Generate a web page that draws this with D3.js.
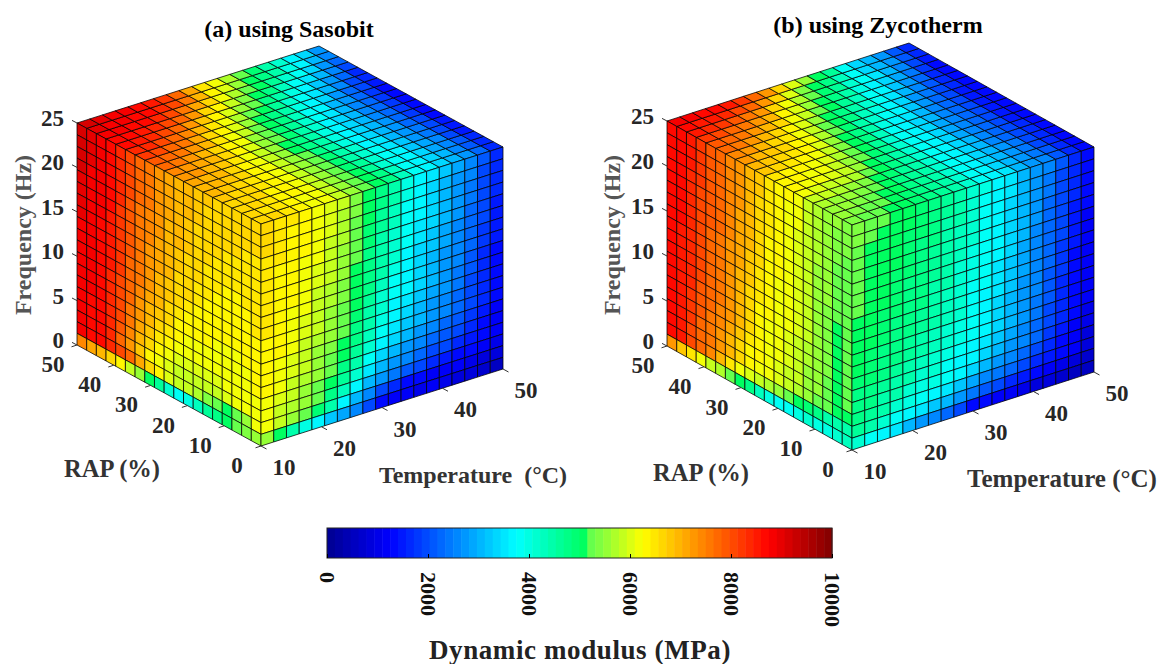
<!DOCTYPE html>
<html>
<head>
<meta charset="utf-8">
<script src="https://cdnjs.cloudflare.com/ajax/libs/d3/7.8.5/d3.min.js"></script>
<style>
  html, body { margin: 0; padding: 0; background: #fff; }
  text { font-family: "Liberation Serif", serif; font-weight: bold; }
</style>
</head>
<body>
<div id="chart"></div>
<script>
// ================================ data (cell values, x100 MPa)
// top faces: first row RAP 0 -> last row RAP 50, columns T 10 -> 50
var sasobitTop = [
  [66,66,65,63,62,61,59,56,53,50,47,43,39,37,34,30,27,22,17],
  [66,65,65,64,62,61,59,56,53,50,47,43,39,37,33,30,26,21,16],
  [67,66,65,64,63,61,59,56,53,50,46,42,38,36,33,29,25,21,16],
  [67,66,66,64,63,61,59,56,52,49,46,42,38,36,32,29,25,20,15],
  [68,67,66,65,63,61,59,55,52,49,45,41,38,35,32,28,24,20,15],
  [69,68,67,65,64,62,59,55,52,49,45,41,37,35,31,28,24,19,15],
  [70,69,68,66,64,62,59,55,52,48,44,40,37,34,31,27,23,19,14],
  [71,70,69,67,64,62,59,55,51,48,44,40,37,34,30,27,23,18,14],
  [73,72,70,68,65,62,59,55,51,48,44,40,37,34,30,26,22,18,14],
  [74,73,71,69,66,63,60,55,52,49,45,41,37,34,30,26,22,18,14],
  [77,75,73,70,67,64,61,56,52,49,46,42,38,35,30,26,22,18,14],
  [79,77,75,72,69,65,62,58,53,50,47,43,39,36,31,27,23,18,14],
  [82,80,78,75,71,67,63,60,55,51,48,44,40,37,33,28,23,19,15],
  [84,83,81,78,74,70,65,62,57,53,50,46,42,38,35,30,25,20,16],
  [86,85,83,81,78,73,68,64,60,55,52,48,44,40,37,32,27,22,17],
  [87,87,85,84,81,77,72,67,63,59,54,50,47,43,39,35,30,25,19],
  [88,88,87,86,84,81,76,71,66,62,57,53,50,46,42,38,33,28,22],
  [90,89,88,87,86,84,80,75,69,64,60,55,51,48,44,40,36,31,25],
  [92,90,89,88,87,85,82,77,71,65,62,57,52,49,45,41,37,33,27]
];
// left faces: first row F 25 -> last row F 0, columns RAP 50 -> 0
var sasobitLeft = [
  [91,90,88,86,83,80,77,75,73,71,70,69,68,68,67,67,66,66,66],
  [91,90,88,86,83,80,77,75,73,71,70,69,68,67,67,66,66,66,66],
  [91,90,88,86,83,80,77,75,73,71,70,69,68,67,66,66,66,66,66],
  [91,89,88,86,83,80,77,75,72,71,70,68,67,67,66,66,66,65,65],
  [90,89,88,86,83,79,76,74,72,70,69,68,67,66,66,65,65,65,65],
  [90,89,88,86,82,79,76,74,72,70,69,68,67,66,65,65,65,65,65],
  [90,89,88,85,82,79,76,74,71,70,68,67,66,65,65,65,65,65,65],
  [90,88,87,85,82,79,76,73,71,69,68,67,66,65,65,64,64,65,65],
  [89,88,87,85,82,79,75,73,71,69,67,66,65,65,64,64,64,64,65],
  [89,88,87,85,82,78,75,73,70,68,67,66,65,64,64,64,64,64,65],
  [89,88,87,85,82,78,75,72,70,68,66,65,64,64,64,63,64,64,64],
  [88,88,87,84,81,78,74,71,69,67,65,64,64,63,63,63,63,63,64],
  [88,88,86,84,81,77,73,70,68,66,64,63,63,63,62,62,62,63,63],
  [88,88,86,84,80,76,72,69,67,65,63,62,62,62,62,62,62,62,63],
  [88,87,86,83,80,75,71,68,65,63,62,61,61,61,61,61,62,62,63],
  [88,87,86,83,79,74,70,66,63,61,60,60,60,60,60,61,61,62,62],
  [88,87,86,83,78,73,68,64,61,60,59,59,58,58,59,60,61,61,62],
  [88,87,86,84,81,77,71,67,63,60,59,59,57,54,52,50,52,55,62],
  [74,71,69,67,63,59,55,50,46,42,39,40,43,46,48,50,52,54,56]
];
// right faces: first row F 25 -> last row F 0, columns T 10 -> 50
var sasobitRight = [
  [66,65,65,63,62,60,58,54,50,47,44,40,37,35,32,29,25,21,17],
  [66,65,64,63,62,60,57,54,50,47,44,40,37,34,31,28,25,20,16],
  [66,65,64,63,61,60,57,53,50,46,43,39,36,34,31,28,24,20,16],
  [65,65,64,63,61,59,57,53,49,46,43,39,36,33,30,27,24,19,16],
  [65,64,64,62,61,59,56,52,49,45,42,38,35,33,30,27,23,19,15],
  [65,64,63,62,60,58,55,52,48,45,42,38,35,32,29,26,23,19,15],
  [65,64,63,62,60,58,55,51,48,44,41,37,34,32,29,26,22,18,15],
  [65,64,63,61,59,57,54,51,47,44,40,37,34,31,28,25,22,18,15],
  [65,63,62,61,59,57,54,50,47,43,39,36,33,31,28,25,21,17,14],
  [65,63,62,60,58,56,53,50,46,42,38,36,33,30,27,24,21,17,14],
  [64,63,62,60,58,55,53,49,45,41,37,35,32,29,27,24,20,17,14],
  [64,63,61,59,57,55,52,48,44,40,36,34,31,28,26,23,20,16,13],
  [64,62,60,59,56,54,51,47,43,38,35,32,30,27,25,22,19,16,13],
  [63,62,60,58,56,53,50,46,41,36,33,30,27,25,23,21,18,15,12],
  [63,61,59,57,55,52,48,44,38,33,30,28,25,23,21,19,17,14,12],
  [62,60,58,56,53,50,46,41,35,31,28,25,23,20,19,17,15,13,11],
  [62,59,57,55,52,48,43,37,31,27,24,21,19,17,15,14,13,12,10],
  [61,59,56,52,49,44,36,31,25,20,16,14,13,12,11,11,10,9,8],
  [55,50,44,40,37,32,29,25,19,14,12,11,10,11,10,9,8,7,5]
];
var zycothermTop = [
  [54,53,52,50,50,49,48,46,44,42,39,37,35,31,28,25,21,17,14],
  [55,54,53,52,50,49,48,46,44,42,39,37,34,31,28,24,21,17,14],
  [56,55,54,53,51,50,48,46,44,41,38,36,34,31,27,24,20,16,13],
  [57,56,55,54,52,50,48,46,44,41,38,36,33,30,27,24,20,16,13],
  [59,58,57,56,54,51,49,46,44,41,38,36,33,30,26,23,20,16,13],
  [61,60,59,58,57,53,50,47,44,41,38,36,33,30,26,23,19,16,13],
  [63,62,61,60,58,55,51,48,45,41,38,36,33,29,26,23,19,15,13],
  [64,63,62,61,59,56,52,49,46,42,38,36,33,29,26,22,19,15,13],
  [65,64,63,62,60,57,53,50,46,42,38,36,33,29,26,22,19,15,13],
  [68,66,65,63,62,58,54,50,47,43,39,37,34,30,26,22,19,15,13],
  [70,68,66,65,63,60,55,51,48,44,40,37,35,31,26,22,19,15,13],
  [72,70,68,66,64,61,57,52,49,45,42,38,36,32,27,23,19,15,13],
  [74,72,70,67,65,62,58,53,50,47,43,40,37,33,28,24,20,16,13],
  [78,75,72,70,67,63,60,55,51,48,45,41,38,35,30,25,21,16,13],
  [79,77,75,72,69,66,62,58,53,50,46,43,39,36,32,27,22,17,13],
  [82,81,78,75,72,69,64,60,55,51,48,44,40,37,33,29,24,18,14],
  [85,84,82,79,76,72,67,62,57,52,49,46,42,38,35,30,26,20,15],
  [86,85,85,83,80,77,72,66,60,54,50,47,43,38,34,30,27,21,16],
  [88,88,87,87,85,82,78,72,66,60,55,50,46,39,33,30,27,21,16]
];
var zycothermLeft = [
  [87,86,85,82,79,78,74,72,70,68,65,64,63,61,59,57,56,55,54],
  [87,86,85,82,79,78,74,72,70,68,65,64,62,61,59,57,56,54,54],
  [87,86,85,82,79,77,74,72,70,67,65,64,62,61,59,57,55,54,54],
  [87,86,84,82,79,77,74,72,69,67,65,63,62,60,59,57,55,54,53],
  [87,86,84,81,79,77,74,71,69,67,65,63,62,60,58,57,55,53,53],
  [87,86,84,81,79,77,74,71,69,66,64,63,62,60,58,56,55,53,53],
  [87,86,84,81,79,77,74,71,69,66,64,63,62,60,58,56,55,52,53],
  [87,86,84,81,78,76,73,71,68,66,64,63,61,60,58,56,55,52,53],
  [87,85,83,81,78,76,73,71,68,65,64,62,61,60,58,56,54,52,53],
  [87,85,83,80,78,76,73,70,68,65,63,62,61,60,58,56,54,51,53],
  [87,85,83,80,78,76,73,70,67,65,63,62,61,60,58,56,54,51,53],
  [87,85,83,80,78,76,73,70,67,64,63,62,61,60,58,56,54,51,53],
  [87,85,83,79,77,75,73,70,67,64,62,61,60,59,57,56,54,51,53],
  [87,85,82,79,77,74,72,69,66,63,62,61,60,59,57,55,54,50,53],
  [87,85,82,79,76,74,71,68,65,63,62,61,60,58,56,55,53,50,53],
  [87,85,82,78,76,73,70,67,64,63,62,60,59,58,56,55,53,50,52],
  [87,85,81,78,75,72,69,66,63,62,61,60,59,57,55,53,52,50,50],
  [86,85,81,77,74,70,65,62,60,59,57,55,53,50,49,47,45,44,44],
  [72,68,65,62,59,57,53,50,47,43,40,38,39,40,41,40,40,41,43]
];
var zycothermRight = [
  [54,53,52,51,50,49,48,46,44,42,40,37,35,31,28,25,21,17,14],
  [54,52,51,50,50,49,47,46,44,42,39,37,35,31,28,24,20,16,14],
  [53,51,50,50,49,49,47,45,44,41,39,37,34,31,27,24,20,16,13],
  [53,51,50,50,49,48,47,45,43,41,39,36,34,30,27,23,20,16,13],
  [53,50,50,50,49,48,46,45,43,41,38,36,33,30,27,23,19,15,13],
  [53,50,50,49,49,48,46,44,43,40,38,36,33,30,26,23,19,15,12],
  [53,50,50,49,48,47,46,44,42,40,38,36,33,29,26,22,19,15,12],
  [52,50,50,49,48,47,45,44,42,40,38,35,32,29,26,22,18,15,12],
  [51,50,49,49,47,47,45,43,42,39,38,35,32,29,25,22,18,14,12],
  [50,50,49,48,47,46,44,43,41,39,37,35,32,28,25,21,18,14,11],
  [50,50,49,48,47,46,44,43,41,39,37,34,31,28,25,21,17,14,11],
  [50,49,48,47,46,45,43,42,40,38,37,34,31,27,24,21,17,13,11],
  [50,49,48,47,46,44,43,41,40,38,36,33,30,27,24,20,16,13,11],
  [49,49,47,46,45,43,42,40,38,37,35,32,29,26,23,19,16,13,10],
  [48,48,46,45,44,42,41,39,37,36,33,30,28,25,22,18,15,12,10],
  [47,47,45,44,42,40,40,38,36,34,31,28,26,23,20,17,14,12,9],
  [47,46,44,42,40,38,37,35,32,29,26,24,22,20,17,15,13,11,9],
  [46,45,42,39,37,35,32,30,28,24,21,19,17,15,13,11,10,8,7],
  [41,38,37,35,31,28,26,23,19,14,13,12,11,10,9,8,7,6,5]
];

var tempTicks = [10, 20, 30, 40, 50];
var rapTicks = [0, 10, 20, 30, 40, 50];
var freqTicks = [0, 5, 10, 15, 20, 25];
var barTicks = [0, 2000, 4000, 6000, 8000, 10000];

// jet colormap as it looks in the picture, cut in 64 steps
var jetStops = [0, 1250, 3750, 5080, 5120, 6250, 8750, 10000];
var jetColors = ["#000090", "#0000ff", "#00ffff", "#00ff60", "#55ff55", "#ffff00", "#ff0000", "#800000"];

// ================================ svg
var svgWidth = 1163;
var svgHeight = 664;

var svg = d3.select("#chart")
  .append("svg")
  .attr("width", svgWidth)
  .attr("height", svgHeight)
  .style("display", "block");

var jet = d3.scaleLinear().domain(jetStops).range(jetColors);
var stepSize = 10000 / 64;

function cellColor(v) {
  var mpa = v * 100;
  return jet((Math.floor(mpa / stepSize) + 0.5) * stepSize);
}

// ================================ one cube
function drawCube(p) {
  var g = svg.append("g");

  // three skew axes, they all start at the front bottom corner
  var xTemp = d3.scaleLinear().domain([10, 50]).range([0, p.tempEnd[0] - p.origin[0]]);
  var yTemp = d3.scaleLinear().domain([10, 50]).range([0, p.tempEnd[1] - p.origin[1]]);
  var xRap = d3.scaleLinear().domain([0, 50]).range([0, p.rapEnd[0] - p.origin[0]]);
  var yRap = d3.scaleLinear().domain([0, 50]).range([0, p.rapEnd[1] - p.origin[1]]);
  var yFreq = d3.scaleLinear().domain([0, 25]).range([0, -p.height]);

  function project(rap, temp, freq) {
    return [p.origin[0] + xTemp(temp) + xRap(rap), p.origin[1] + yTemp(temp) + yRap(rap) + yFreq(freq)];
  }

  // grid index -> axis value
  var iTemp = d3.scaleLinear().domain([0, 19]).range([10, 50]);
  var iRap = d3.scaleLinear().domain([0, 19]).range([0, 50]);
  var iFreq = d3.scaleLinear().domain([0, 19]).range([25, 0]);

  function addFace(values, corners) {
    var cells = [];
    values.forEach(function (row, r) {
      row.forEach(function (v, c) {
        cells.push({ v: v, pts: corners(r, c) });
      });
    });
    g.append("g").selectAll("polygon")
      .data(cells)
      .enter()
      .append("polygon")
      .attr("points", d => d.pts.map(q => q.join(",")).join(" "))
      .attr("fill", d => cellColor(d.v))
      .attr("stroke", "#000")
      .attr("stroke-width", 0.75)
      .attr("stroke-linejoin", "round");
  }

  addFace(p.top, function (r, c) {
    return [project(iRap(r), iTemp(c), 25), project(iRap(r), iTemp(c + 1), 25),
            project(iRap(r + 1), iTemp(c + 1), 25), project(iRap(r + 1), iTemp(c), 25)];
  });
  addFace(p.left, function (r, c) {
    return [project(iRap(19 - c), 10, iFreq(r)), project(iRap(18 - c), 10, iFreq(r)),
            project(iRap(18 - c), 10, iFreq(r + 1)), project(iRap(19 - c), 10, iFreq(r + 1))];
  });
  addFace(p.right, function (r, c) {
    return [project(0, iTemp(c), iFreq(r)), project(0, iTemp(c + 1), iFreq(r)),
            project(0, iTemp(c + 1), iFreq(r + 1)), project(0, iTemp(c), iFreq(r + 1))];
  });

  // ticks
  function addTicks(ticks, start, dx, dy) {
    g.append("g").selectAll("line")
      .data(ticks)
      .enter()
      .append("line")
      .attr("x1", d => start(d)[0])
      .attr("y1", d => start(d)[1])
      .attr("x2", d => start(d)[0] + dx)
      .attr("y2", d => start(d)[1] + dy)
      .attr("stroke", "#333")
      .attr("stroke-width", 1);
  }
  addTicks(freqTicks, d => project(50, 10, d), -5, -2.6);
  addTicks(rapTicks, d => project(d, 10, 0), -5.5, 1.8);
  addTicks(tempTicks, d => project(0, d, 0), 5.5, 3);

  // tick labels
  function addLabels(ticks, start, dx, dy, anchor) {
    g.append("g").selectAll("text")
      .data(ticks)
      .enter()
      .append("text")
      .attr("x", d => start(d)[0] + dx)
      .attr("y", d => start(d)[1] + dy)
      .attr("text-anchor", anchor)
      .attr("font-size", 23)
      .attr("fill", "#262626")
      .text(d => d);
  }
  addLabels(freqTicks, d => project(50, 10, d), -13, 3, "end");
  addLabels(rapTicks, d => project(d, 10, 0), -24, 27, "middle");
  addLabels(tempTicks, d => project(0, d, 0), 23, 29, "middle");

  // titles
  g.append("text")
    .attr("x", p.title[0]).attr("y", p.title[1])
    .attr("text-anchor", "middle").attr("font-size", 24).attr("fill", "#000")
    .text(p.titleText);
  g.append("text")
    .attr("transform", `translate(${p.freqLabel[0]}, ${p.freqLabel[1]}) rotate(-90)`)
    .attr("text-anchor", "middle").attr("font-size", 24).attr("fill", "#555")
    .text("Frequency (Hz)");
  g.append("text")
    .attr("x", p.rapLabel[0]).attr("y", p.rapLabel[1])
    .attr("text-anchor", "middle").attr("font-size", 24.5).attr("fill", "#333")
    .text("RAP (%)");
  g.append("text")
    .attr("x", p.tempLabel[0]).attr("y", p.tempLabel[1])
    .attr("text-anchor", "middle").attr("font-size", p.tempSize).attr("fill", "#333")
    .attr("xml:space", "preserve")
    .text(p.tempText);
}

drawCube({
  origin: [261, 446], tempEnd: [503, 369], rapEnd: [77, 345], height: 222,
  top: sasobitTop, left: sasobitLeft, right: sasobitRight,
  title: [289, 37], titleText: "(a) using Sasobit",
  freqLabel: [31, 235], rapLabel: [112, 477], tempLabel: [473, 483],
  tempText: "Temperature  (\u00B0C)", tempSize: 24
});

drawCube({
  origin: [852, 450], tempEnd: [1094, 372], rapEnd: [667, 346], height: 225,
  top: zycothermTop, left: zycothermLeft, right: zycothermRight,
  title: [878, 33], titleText: "(b) using Zycotherm",
  freqLabel: [620, 235], rapLabel: [701, 481], tempLabel: [1062, 487],
  tempText: "Temperature (\u00B0C)", tempSize: 25
});

// ================================ colorbar
var barX = d3.scaleLinear().domain([0, 10000]).range([327, 832]);
var barTop = 528;
var barHeight = 30;

svg.append("g").selectAll("rect")
  .data(d3.range(64))
  .enter()
  .append("rect")
  .attr("x", d => barX(d * stepSize))
  .attr("y", barTop)
  .attr("width", barX(stepSize) - barX(0) + 0.5)
  .attr("height", barHeight)
  .attr("fill", d => jet((d + 0.5) * stepSize));

svg.append("rect")
  .attr("x", barX(0)).attr("y", barTop)
  .attr("width", barX(10000) - barX(0)).attr("height", barHeight)
  .attr("fill", "none").attr("stroke", "#222").attr("stroke-width", 1);

var barAxis = d3.axisBottom(barX)
  .tickValues(barTicks)
  .tickFormat(d3.format("d"))
  .tickSize(-4)
  .tickPadding(0);

svg.append("g")
  .attr("transform", `translate(0, ${barTop + barHeight})`)
  .call(barAxis)
  .call(a => a.select(".domain").remove())
  .selectAll("text")
  .attr("y", 0)
  .attr("x", 14)
  .attr("dy", ".35em")
  .attr("transform", "rotate(90)")
  .style("text-anchor", "start")
  .attr("font-size", 22)
  .attr("fill", "#111");

svg.append("text")
  .attr("x", 580).attr("y", 659)
  .attr("text-anchor", "middle")
  .attr("font-size", 27)
  .attr("letter-spacing", 0.6)
  .attr("fill", "#222")
  .text("Dynamic modulus (MPa)");
</script>
</body>
</html>
